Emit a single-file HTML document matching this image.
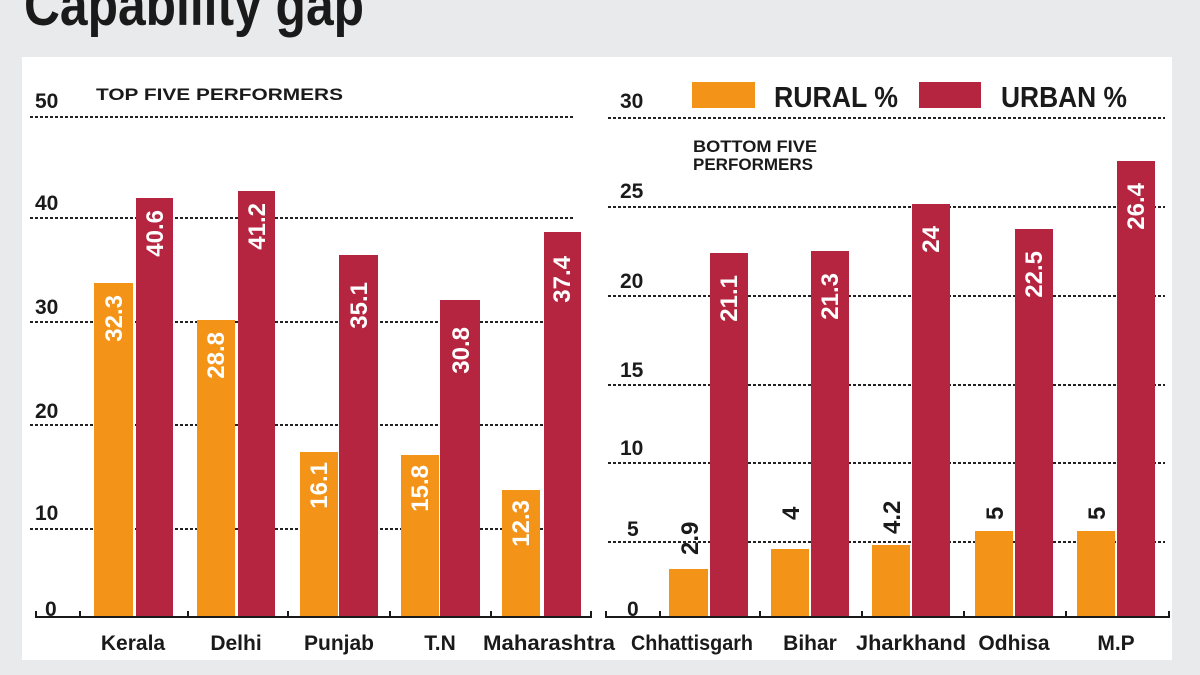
<!DOCTYPE html>
<html><head><meta charset="utf-8"><style>
html,body{margin:0;padding:0;background:#e9eaeb;}
svg{display:block}
text{font-family:"Liberation Sans",sans-serif;font-weight:bold}
</style></head><body>
<svg width="1200" height="675" viewBox="0 0 1200 675" xmlns="http://www.w3.org/2000/svg">
<rect width="1200" height="675" fill="#e9eaeb"/>
<text x="24" y="25" font-size="58" fill="#1a1a1a" textLength="340" lengthAdjust="spacingAndGlyphs">Capability gap</text>
<rect x="22" y="57" width="1150" height="603" fill="#fff"/>
<g stroke="#222" stroke-width="2" stroke-dasharray="3,2">
<line x1="30" y1="117" x2="573" y2="117"/>
<line x1="30" y1="218" x2="573" y2="218"/>
<line x1="30" y1="322" x2="573" y2="322"/>
<line x1="30" y1="425" x2="573" y2="425"/>
<line x1="30" y1="529" x2="573" y2="529"/>
<line x1="608" y1="118" x2="1165" y2="118"/>
<line x1="608" y1="207" x2="1165" y2="207"/>
<line x1="608" y1="296" x2="1165" y2="296"/>
<line x1="608" y1="385" x2="1165" y2="385"/>
<line x1="608" y1="463" x2="1165" y2="463"/>
<line x1="608" y1="542" x2="1165" y2="542"/>
</g>
<g font-size="21" fill="#1a1a1a">
<text x="35" y="108">50</text><text x="35" y="210">40</text><text x="35" y="314">30</text><text x="35" y="418">20</text><text x="35" y="520">10</text><text x="45" y="616">0</text>
<text x="620" y="108">30</text><text x="620" y="198">25</text><text x="620" y="288">20</text><text x="620" y="377">15</text><text x="620" y="455">10</text><text x="627" y="536">5</text><text x="627" y="616">0</text>
</g>
<text x="96" y="100" font-size="17" fill="#1a1a1a" textLength="247" lengthAdjust="spacingAndGlyphs">TOP FIVE PERFORMERS</text>
<text x="693" y="152" font-size="17" fill="#1a1a1a" textLength="124" lengthAdjust="spacingAndGlyphs">BOTTOM FIVE</text>
<text x="693" y="170" font-size="17" fill="#1a1a1a" textLength="120" lengthAdjust="spacingAndGlyphs">PERFORMERS</text>
<rect x="692" y="82" width="63" height="26" fill="#f39419"/>
<text x="774" y="107" font-size="29" fill="#1a1a1a" textLength="124" lengthAdjust="spacingAndGlyphs">RURAL %</text>
<rect x="919" y="82" width="62" height="26" fill="#b5253f"/>
<text x="1001" y="107" font-size="29" fill="#1a1a1a" textLength="126" lengthAdjust="spacingAndGlyphs">URBAN %</text>
<g fill="#f39419">
<rect x="94" y="283" width="39" height="334"/>
<rect x="197" y="320" width="38" height="297"/>
<rect x="300" y="452" width="38" height="165"/>
<rect x="401" y="455" width="38" height="162"/>
<rect x="502" y="490" width="38" height="127"/>
<rect x="669" y="569" width="39" height="48"/>
<rect x="771" y="549" width="38" height="68"/>
<rect x="872" y="545" width="38" height="72"/>
<rect x="975" y="531" width="38" height="86"/>
<rect x="1077" y="531" width="38" height="86"/>
</g>
<g fill="#b5253f">
<rect x="136" y="198" width="37" height="419"/>
<rect x="238" y="191" width="37" height="426"/>
<rect x="339" y="255" width="39" height="362"/>
<rect x="440" y="300" width="40" height="317"/>
<rect x="544" y="232" width="37" height="385"/>
<rect x="710" y="253" width="38" height="364"/>
<rect x="811" y="251" width="38" height="366"/>
<rect x="912" y="204" width="38" height="413"/>
<rect x="1015" y="229" width="38" height="388"/>
<rect x="1117" y="161" width="38" height="456"/>
</g>
<g font-size="24" fill="#fff" text-anchor="end">
<text transform="translate(122,295) rotate(-90)">32.3</text>
<text transform="translate(163,210) rotate(-90)">40.6</text>
<text transform="translate(224,332) rotate(-90)">28.8</text>
<text transform="translate(265,203) rotate(-90)">41.2</text>
<text transform="translate(327,462) rotate(-90)">16.1</text>
<text transform="translate(367,282) rotate(-90)">35.1</text>
<text transform="translate(428,465) rotate(-90)">15.8</text>
<text transform="translate(469,327) rotate(-90)">30.8</text>
<text transform="translate(529,500) rotate(-90)">12.3</text>
<text transform="translate(570,256) rotate(-90)">37.4</text>
<text transform="translate(737,275) rotate(-90)">21.1</text>
<text transform="translate(838,273) rotate(-90)">21.3</text>
<text transform="translate(939,226) rotate(-90)">24</text>
<text transform="translate(1042,251) rotate(-90)">22.5</text>
<text transform="translate(1144,183) rotate(-90)">26.4</text>
</g>
<g font-size="24" fill="#1a1a1a" text-anchor="start">
<text transform="translate(698,555) rotate(-90)">2.9</text>
<text transform="translate(799,520) rotate(-90)">4</text>
<text transform="translate(900,534) rotate(-90)">4.2</text>
<text transform="translate(1003,520) rotate(-90)">5</text>
<text transform="translate(1105,520) rotate(-90)">5</text>
</g>
<g stroke="#1a1a1a" stroke-width="2" fill="none">
<line x1="35" y1="617" x2="592" y2="617"/>
<path d="M36 611V617M80 611V617M188 611V617M288 611V617M390 611V617M491 611V617M591 611V617"/>
<line x1="605" y1="617" x2="1170" y2="617"/>
<path d="M606 611V617M660 611V617M760 611V617M862 611V617M964 611V617M1066 611V617M1169 611V617"/>
</g>
<g font-size="21" fill="#1a1a1a" text-anchor="middle">
<text x="133" y="650">Kerala</text>
<text x="236" y="650">Delhi</text>
<text x="339" y="650">Punjab</text>
<text x="440" y="650">T.N</text>
<text x="549" y="650" textLength="132" lengthAdjust="spacingAndGlyphs">Maharashtra</text>
<text x="692" y="650" textLength="122" lengthAdjust="spacingAndGlyphs">Chhattisgarh</text>
<text x="810" y="650">Bihar</text>
<text x="911" y="650" textLength="110" lengthAdjust="spacingAndGlyphs">Jharkhand</text>
<text x="1014" y="650">Odhisa</text>
<text x="1116" y="650">M.P</text>
</g>
</svg>
</body></html>
